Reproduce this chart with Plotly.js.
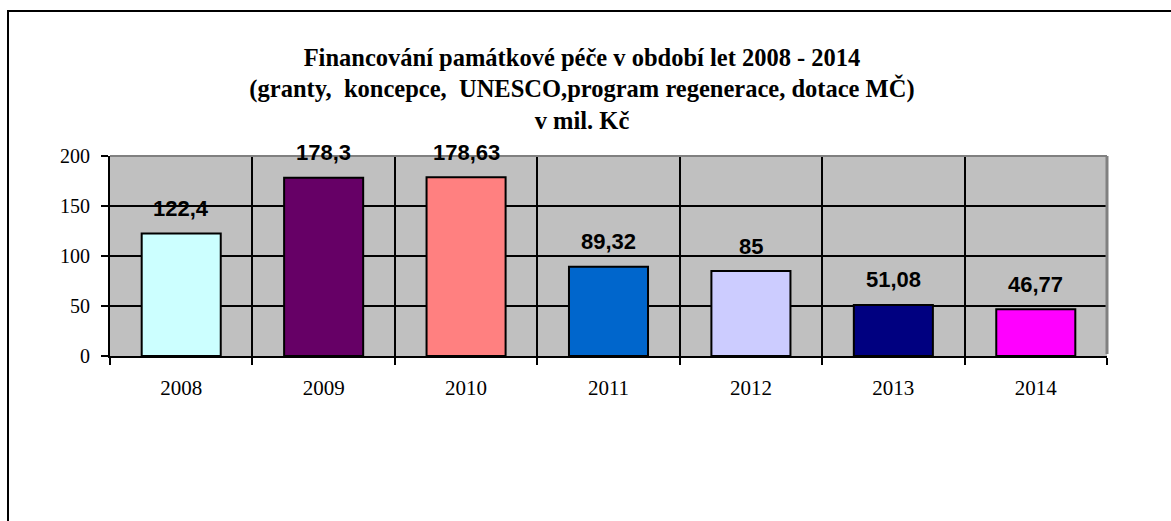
<!DOCTYPE html>
<html>
<head>
<meta charset="utf-8">
<script src="https://cdn.plot.ly/plotly-3.0.1.min.js"></script>
<style>
html,body{margin:0;padding:0;background:#fff;}
#chart{width:1171px;height:521px;}
</style>
</head>
<body>
<div id="chart"></div>
<script>
const years = ['2008','2009','2010','2011','2012','2013','2014'];
const values = [122.4, 178.3, 178.63, 89.32, 85, 51.08, 46.77];
const valueLabels = ['122,4','178,3','178,63','89,32','85','51,08','46,77'];
const barColors = ['#CCFFFF','#660066','#FF8080','#0066CC','#CCCCFF','#000080','#FF00FF'];
const titleLines = [
  'Financování památkové péče v období let 2008 - 2014',
  '(granty,  koncepce,  UNESCO,program regenerace, dotace MČ)',
  'v mil. Kč'
];
const yTicks = [0, 50, 100, 150, 200];

const trace = {
  type: 'bar',
  x: years,
  y: values,
  marker: {color: barColors, line: {color: '#000000', width: 2}},
  hoverinfo: 'x+y',
  cliponaxis: false
};

const annotations = years.map((yr, i) => ({
  x: i, y: values[i], xref: 'x', yref: 'y',
  text: valueLabels[i], showarrow: false,
  yanchor: 'middle', yshift: 25,
  font: {family: 'Liberation Sans, Arial, sans-serif', size: 22, color: '#000', weight: 'bold'}
}));

const layout = {
  width: 1171, height: 521,
  margin: {l: 110, r: 64, t: 156, b: 165},
  paper_bgcolor: '#ffffff',
  plot_bgcolor: '#C0C0C0',
  showlegend: false,
  bargap: 0.445,
  title: {
    text: titleLines.join('<br>'),
    font: {family: 'Liberation Serif, Times New Roman, serif', size: 24.5, color: '#000', weight: 'bold'},
    x: 0.497, xref: 'container', xanchor: 'center',
    y: 0.874, yref: 'container', yanchor: 'top'
  },
  xaxis: {
    type: 'category',
    categoryorder: 'array', categoryarray: years,
    tickson: 'boundaries',
    ticks: 'outside', ticklen: 7, tickwidth: 2, tickcolor: '#000',
    tickangle: 0,
    ticklabelstandoff: 12,
    showline: true, linecolor: '#000', linewidth: 2,
    showgrid: true, gridcolor: '#000', gridwidth: 2,
    tickfont: {family: 'Liberation Serif, Times New Roman, serif', size: 21, color: '#000'},
    fixedrange: true
  },
  yaxis: {
    range: [0, 200],
    tickvals: yTicks,
    ticks: 'outside', ticklen: 7, tickwidth: 2, tickcolor: '#000',
    ticklabelstandoff: 7,
    showline: true, linecolor: '#000', linewidth: 2,
    showgrid: true, gridcolor: '#000', gridwidth: 2,
    zeroline: false,
    tickfont: {family: 'Liberation Serif, Times New Roman, serif', size: 20, color: '#000'},
    fixedrange: true
  },
  annotations: annotations,
  shapes: [
    {type: 'line', xref: 'paper', yref: 'paper', x0: 0, x1: 1, y0: 1, y1: 1,
     line: {color: '#808080', width: 2}, layer: 'above'},
    {type: 'line', xref: 'paper', yref: 'paper', x0: 1, x1: 1, y0: 0.01, y1: 1,
     line: {color: '#808080', width: 3}, layer: 'above'},
    {type: 'rect', xref: 'paper', yref: 'paper',
     x0: -0.1023, x1: 1.08, y0: -0.9, y1: 1.725,
     line: {color: '#000', width: 2}, fillcolor: 'rgba(0,0,0,0)', layer: 'below'}
  ]
};

Plotly.newPlot('chart', [trace], layout, {displayModeBar: false});
</script>
</body>
</html>
